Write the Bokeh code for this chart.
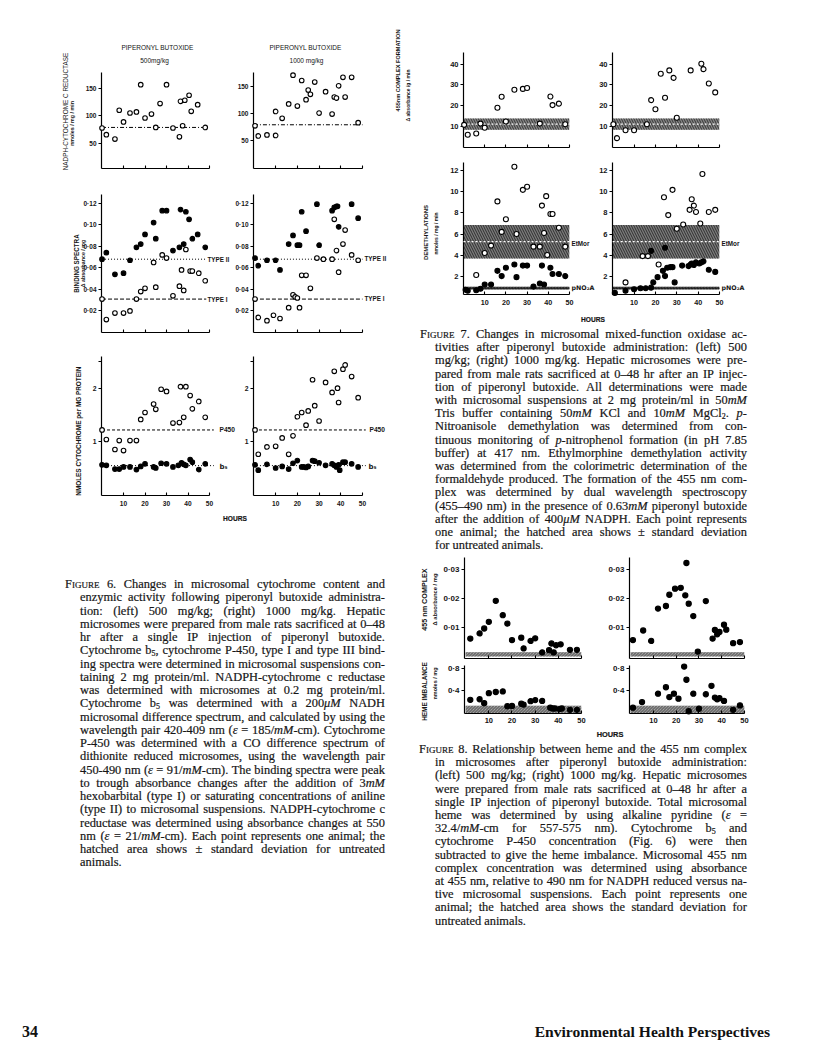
import re
import math
from bokeh.plotting import figure
from bokeh.models import FixedTicker, Div, Range1d
from bokeh.layouts import row, column
from bokeh.embed import file_html
from bokeh.resources import INLINE
from bokeh.core.properties import value

# ---------------------------------------------------------------- data
HOUR_TICKS = [10, 20, 30, 40, 50]
HOUR_LABELS = ["10", "20", "30", "40", "50"]

# Figure 6, row 1 : NADPH-cytochrome c reductase (nmoles/mg/min)
f6_red_500_h = [0, 2, 6, 8, 10, 13, 16, 18, 20, 23, 25, 27, 30, 33, 36, 36.5, 37.5, 38.5, 40.5, 41.5, 44.5, 48]
f6_red_500_v = [78, 66, 58, 110, 89, 105, 107, 156, 96, 103, 79, 122, 156, 78, 62, 126, 82, 128, 137, 108, 120, 79]
f6_red_1000_h = [0.5, 2, 6, 10, 10, 13, 16, 18, 20, 22, 24, 25, 26, 28, 30, 33, 36, 37, 38, 39, 41, 42, 45, 48]
f6_red_1000_v = [77, 58, 60, 59, 104, 91, 118, 172, 114, 162, 126, 144, 136, 159, 101, 141, 99, 131, 129, 152, 168, 131, 168, 83]
f6_red_control = 79
f6_red_yticks = [50, 100, 150]
f6_red_ylabels = ["50", "100", "150"]

# Figure 6, row 2 : binding spectra (delta absorbance / mg)
f6_t2_500_h = [0, 2, 6, 10, 13, 16, 18, 20, 24, 25, 28, 30, 33, 36, 36.5, 38, 39, 40.5, 42, 44.5, 48]
f6_t2_500_v = [0.068, 0.074, 0.054, 0.055, 0.067, 0.079, 0.082, 0.091, 0.102, 0.087, 0.113, 0.113, 0.076, 0.079, 0.114, 0.082, 0.112, 0.105, 0.087, 0.091, 0.079]
f6_t1_500_h = [0, 2, 6, 10, 13, 16, 18, 20, 24, 25, 28, 30, 33, 36, 37, 38, 39, 41, 42, 45, 48]
f6_t1_500_v = [0.031, 0.012, 0.018, 0.018, 0.020, 0.031, 0.038, 0.041, 0.065, 0.042, 0.072, 0.069, 0.034, 0.043, 0.058, 0.039, 0.077, 0.057, 0.057, 0.055, 0.048]
f6_t2_1000_h = [0.5, 2, 6, 10, 12, 16, 18, 20, 21, 22, 24, 29, 30, 36, 37, 38, 38.5, 39, 45, 48]
f6_t2_1000_v = [0.069, 0.062, 0.067, 0.067, 0.058, 0.082, 0.090, 0.081, 0.081, 0.112, 0.094, 0.119, 0.081, 0.113, 0.116, 0.117, 0.117, 0.098, 0.119, 0.106]
f6_t1_1000_h = [0.5, 2, 6, 9, 12, 16, 18, 19, 20, 21, 22, 24, 26, 29, 32, 36, 37, 38, 39, 41, 42, 45, 48]
f6_t1_1000_v = [0.031, 0.014, 0.011, 0.016, 0.013, 0.023, 0.035, 0.033, 0.032, 0.023, 0.053, 0.053, 0.041, 0.069, 0.068, 0.068, 0.105, 0.076, 0.056, 0.082, 0.095, 0.072, 0.067]
f6_type2_control = 0.068
f6_type1_control = 0.031
f6_bind_yticks = [0.02, 0.04, 0.06, 0.08, 0.10, 0.12]
f6_bind_ylabels = ["0·02", "0·04", "0·06", "0·08", "0·10", "0·12"]

# Figure 6, row 3 : nmoles cytochrome per mg protein
f6_p450_500_h = [0, 2, 6, 8, 10, 13, 16, 18, 20, 24, 25, 27.5, 30, 33, 36, 36.5, 38, 39, 41, 42, 45, 48]
f6_p450_500_v = [1.21, 1.03, 0.84, 1.01, 0.82, 1.01, 1.01, 1.41, 1.54, 1.70, 1.60, 1.98, 1.94, 1.34, 1.35, 2.03, 1.45, 2.03, 1.86, 1.61, 1.75, 1.45]
f6_b5_500_h = [0, 2, 6, 8, 10, 13, 16, 18, 20, 24, 25, 27.5, 30, 33, 35.5, 37, 38, 39, 41, 42, 45, 48]
f6_b5_500_v = [0.55, 0.54, 0.47, 0.47, 0.51, 0.51, 0.46, 0.52, 0.57, 0.51, 0.49, 0.58, 0.57, 0.51, 0.54, 0.59, 0.56, 0.54, 0.65, 0.60, 0.46, 0.57]
f6_p450_1000_h = [0.5, 2, 6, 10, 13, 16, 18, 20, 22, 24, 25, 27, 28, 30, 33, 36, 37, 38.5, 39, 41, 42, 45, 48]
f6_p450_1000_v = [1.21, 0.75, 0.89, 0.90, 1.06, 0.75, 1.10, 1.46, 1.54, 1.30, 1.57, 2.16, 1.67, 1.38, 2.11, 1.92, 2.32, 2.00, 1.73, 2.36, 2.44, 2.22, 1.82]
f6_b5_1000_h = [0.5, 2, 6, 10, 13, 16, 18, 20, 22, 23, 24, 25, 27, 28, 30, 33, 36, 37, 38, 39, 39.5, 41, 42, 45, 48]
f6_b5_1000_v = [0.55, 0.45, 0.56, 0.49, 0.52, 0.47, 0.58, 0.63, 0.51, 0.51, 0.50, 0.52, 0.63, 0.62, 0.59, 0.54, 0.57, 0.54, 0.51, 0.55, 0.45, 0.60, 0.60, 0.57, 0.51]
f6_p450_control = 1.21
f6_b5_control = 0.535
f6_cyt_yticks = [1, 2, 2.5]
f6_cyt_ylabels = ["1", "2", ""]

# Figure 7, top : 455 nm complex formation (delta absorbance/g/min)
f7_455_500_h = [0.3, 2, 6, 8, 10, 16, 18, 20, 24, 28, 30, 36, 41, 42, 45, 48]
f7_455_500_v = [10.8, 6.0, 6.6, 11.4, 9.4, 19.0, 24.3, 12.4, 27.7, 28.1, 28.5, 11.4, 24.4, 20.3, 21.0, 11.1]
f7_455_1000_h = [0.3, 2, 6, 10, 16, 18, 20, 22.5, 24.5, 26.5, 28.5, 30, 36.5, 41.5, 42.5, 45, 48]
f7_455_1000_v = [11.1, 4.4, 8.2, 8.2, 11.1, 22.7, 18.3, 35.4, 23.8, 37.0, 33.4, 14.2, 37.0, 40.2, 37.6, 30.7, 26.4]
f7_455_mean = 11.1
f7_455_band = (8.4, 13.85)
f7_455_yticks = [10, 20, 30, 40]
f7_455_ylabels = ["10", "20", "30", "40"]

# Figure 7, bottom : demethylations (nmoles/mg/min)
f7_etmor_500_h = [6, 10, 13, 16, 18, 20, 24, 25, 28, 30, 33, 36, 37, 38, 39, 39.5, 41, 42, 45, 48]
f7_etmor_500_v = [2.1, 4.2, 4.9, 9.1, 6.2, 7.4, 12.4, 6.0, 10.2, 10.5, 4.8, 4.8, 8.7, 6.1, 9.6, 4.0, 7.9, 7.9, 6.6, 4.8]
f7_pna_500_h = [1, 2, 6, 8, 10, 13, 16, 18, 20, 24, 25, 28, 30, 33, 36, 37, 38, 41, 42, 45, 48]
f7_pna_500_v = [0.7, 0.6, 0.65, 0.8, 1.2, 1.2, 2.5, 2.0, 2.8, 3.1, 1.9, 3.0, 3.0, 1.0, 1.3, 3.0, 1.2, 2.8, 2.2, 2.2, 2.0]
f7_etmor_1000_h = [6, 14, 16.5, 21.5, 24, 26, 28, 30, 33, 36, 37, 38, 39, 41, 42, 45, 48]
f7_etmor_1000_v = [1.4, 3.9, 3.9, 3.1, 9.5, 7.8, 10.2, 6.5, 6.9, 8.3, 9.3, 8.7, 8.1, 7.0, 11.7, 8.1, 8.3]
f7_pna_1000_h = [1, 6, 10, 13, 15.5, 18, 18, 19, 21, 23.5, 24.5, 24.5, 25.5, 27, 28, 29, 32.5, 35.5, 36.5, 37, 38, 39, 40.5, 41.5, 42.5, 45, 48]
f7_pna_1000_v = [0.4, 0.6, 0.75, 0.85, 0.85, 0.9, 4.4, 1.4, 1.9, 2.5, 2.0, 4.7, 2.8, 2.85, 2.85, 1.4, 3.0, 2.95, 3.1, 3.2, 3.05, 3.3, 3.2, 3.3, 3.4, 2.6, 2.4]
f7_etmor_mean = 5.27
f7_etmor_band = (3.68, 6.86)
f7_pna_mean = 0.85
f7_pna_band = (0.72, 0.98)
f7_dem_yticks = [2, 4, 6, 8, 10, 12]
f7_dem_ylabels = ["2", "4", "6", "8", "10", "12"]

# Figure 8, top : 455 nm complex (delta absorbance / mg)
f8_455_500_h = [2, 6, 8, 10, 13, 16, 18, 20, 24, 25, 28, 30, 33, 36, 37, 38, 39, 41, 45, 48]
f8_455_500_v = [0.0062, 0.0080, 0.0097, 0.0120, 0.0193, 0.0143, 0.0114, 0.0057, 0.0065, 0.0028, 0.0054, 0.0063, 0.0014, 0.0022, 0.0045, 0.0014, 0.0039, 0.0042, 0.0023, 0.0023]
f8_455_1000_h = [1, 5.5, 9, 12, 15.5, 17, 19.5, 22, 24, 24.5, 25.5, 27.5, 29.5, 33, 36, 37, 38, 39, 41, 42, 45, 48]
f8_455_1000_v = [0.0057, 0.0090, 0.0054, 0.0166, 0.0175, 0.0214, 0.0235, 0.0238, 0.0212, 0.0324, 0.0183, 0.0140, 0.0017, 0.0192, 0.0062, 0.0092, 0.0077, 0.0085, 0.0110, 0.0093, 0.0046, 0.0050]
f8_455_band = (0.0, 0.0015)
f8_455_yticks = [0.01, 0.02, 0.03]
f8_455_ylabels = ["0·01", "0·02", "0·03"]

# Figure 8, bottom : heme imbalance (nmoles / mg)
f8_heme_500_h = [2, 6, 8, 10, 13, 16, 18, 20, 24, 25, 28, 30, 33, 36.5, 37.5, 38.5, 40.5, 41.5, 45, 48]
f8_heme_500_v = [0.24, 0.25, 0.18, 0.36, 0.38, 0.39, 0.125, 0.13, 0.17, 0.155, 0.215, 0.235, 0.22, 0.10, 0.085, 0.085, 0.075, 0.085, 0.06, 0.06]
f8_heme_1000_h = [1, 5, 12, 15.5, 17, 19, 21, 23.5, 24.5, 25.5, 27.5, 30, 33, 35.5, 37, 38, 39, 41, 45, 48]
f8_heme_1000_v = [0.10, 0.20, 0.35, 0.465, 0.29, 0.35, 0.26, 0.835, 0.60, 0.035, 0.35, 0.08, 0.34, 0.49, 0.28, 0.25, 0.27, 0.22, 0.06, 0.14]
f8_heme_band = (0.0, 0.135)
f8_heme_yticks = [0.4, 0.8]
f8_heme_ylabels = ["0·4", "0·8"]

# captions
fig6_caption = [
    "FIGURE 6. Changes in microsomal cytochrome content and",
    "enzymic activity following piperonyl butoxide administra-",
    "tion: (left) 500 mg/kg; (right) 1000 mg/kg. Hepatic",
    "microsomes were prepared from male rats sacrificed at 0–48",
    "hr after a single IP injection of piperonyl butoxide.",
    "Cytochrome b[5], cytochrome P-450, type I and type III bind-",
    "ing spectra were determined in microsomal suspensions con-",
    "taining 2 mg protein/ml. NADPH-cytochrome c reductase",
    "was determined with microsomes at 0.2 mg protein/ml.",
    "Cytochrome b[5] was determined with a 200*μM* NADH",
    "microsomal difference spectrum, and calculated by using the",
    "wavelength pair 420-409 nm (*ε* = 185/*mM*-cm). Cytochrome",
    "P-450 was determined with a CO difference spectrum of",
    "dithionite reduced microsomes, using the wavelength pair",
    "450-490 nm (*ε* = 91/*mM*-cm). The binding spectra were peak",
    "to trough absorbance changes after the addition of 3*mM*",
    "hexobarbital (type I) or saturating concentrations of aniline",
    "(type II) to microsomal suspensions. NADPH-cytochrome c",
    "reductase was determined using absorbance changes at 550",
    "nm (*ε* = 21/*mM*-cm). Each point represents one animal; the",
    "hatched area shows ± standard deviation for untreated",
    "animals.",
]
fig7_caption = [
    "FIGURE 7. Changes in microsomal mixed-function oxidase ac-",
    "tivities after piperonyl butoxide administration: (left) 500",
    "mg/kg; (right) 1000 mg/kg. Hepatic microsomes were pre-",
    "pared from male rats sacrificed at 0–48 hr after an IP injec-",
    "tion of piperonyl butoxide. All determinations were made",
    "with microsomal suspensions at 2 mg protein/ml in 50*mM*",
    "Tris buffer containing 50*mM* KCl and 10*mM* MgCl[2]. *p*-",
    "Nitroanisole demethylation was determined from con-",
    "tinuous monitoring of *p*-nitrophenol formation (in pH 7.85",
    "buffer) at 417 nm. Ethylmorphine demethylation activity",
    "was determined from the colorimetric determination of the",
    "formaldehyde produced. The formation of the 455 nm com-",
    "plex was determined by dual wavelength spectroscopy",
    "(455–490 nm) in the presence of 0.63*mM* piperonyl butoxide",
    "after the addition of 400*μM* NADPH. Each point represents",
    "one animal; the hatched area shows ± standard deviation",
    "for untreated animals.",
]
fig8_caption = [
    "FIGURE 8. Relationship between heme and the 455 nm complex",
    "in microsomes after piperonyl butoxide administration:",
    "(left) 500 mg/kg; (right) 1000 mg/kg. Hepatic microsomes",
    "were prepared from male rats sacrificed at 0–48 hr after a",
    "single IP injection of piperonyl butoxide. Total microsomal",
    "heme was determined by using alkaline pyridine (*ε* =",
    "32.4/*mM*-cm for 557-575 nm). Cytochrome b[5] and",
    "cytochrome P-450 concentration (Fig. 6) were then",
    "subtracted to give the heme imbalance. Microsomal 455 nm",
    "complex concentration was determined using absorbance",
    "at 455 nm, relative to 490 nm for NADPH reduced versus na-",
    "tive microsomal suspensions. Each point represents one",
    "animal; the hatched area shows the standard deviation for",
    "untreated animals.",
]
page_number = "34"
journal_name = "Environmental Health Perspectives"

# ---------------------------------------------------------------- helpers
SANS = "Liberation Sans"
SERIF = "Liberation Serif"
INK = "#151515"


class Panel:
    """A figure whose canvas box and frame are given in page pixels."""

    def __init__(self, box, frame, xr, yr):
        self.box, self.frame, self.xr, self.yr = box, frame, xr, yr
        bl, bt, br, bb = box
        fl, ft, fr, fb = frame
        p = figure(width=br - bl, height=bb - bt,
                   x_range=Range1d(*xr), y_range=Range1d(*yr),
                   min_border_left=fl - bl, min_border_right=br - fr,
                   min_border_top=ft - bt, min_border_bottom=bb - fb,
                   output_backend="svg", toolbar_location=None, tools="")
        p.outline_line_color = None
        p.xgrid.visible = False
        p.ygrid.visible = False
        p.background_fill_color = "white"
        p.border_fill_color = "white"
        self.p = p

    def dx(self, px):
        fl, ft, fr, fb = self.frame
        return self.xr[0] + (px - fl) / (fr - fl) * (self.xr[1] - self.xr[0])

    def dy(self, py):
        fl, ft, fr, fb = self.frame
        return self.yr[1] - (py - ft) / (fb - ft) * (self.yr[1] - self.yr[0])


def style_axes(pan, yticks, ylabels, show_x, ysize, xsize=7, xstand=4):
    p = pan.p
    xa = p.xaxis[0]
    ya = p.yaxis[0]
    for a in (xa, ya):
        a.axis_line_color = "black"
        a.axis_line_width = 1.2
        a.major_tick_line_color = "black"
        a.major_tick_line_width = 1.1
        a.minor_tick_line_color = None
        a.major_label_text_font = SANS
        a.major_label_text_font_style = "bold"
        a.major_label_text_color = INK
    xa.ticker = FixedTicker(ticks=HOUR_TICKS, minor_ticks=[])
    xa.major_tick_in = 3
    xa.major_tick_out = 0
    if show_x:
        xa.major_label_overrides = dict(zip(HOUR_TICKS, HOUR_LABELS))
        xa.major_label_text_font_size = f"{xsize}px"
        xa.major_label_standoff = xstand
    else:
        xa.major_label_overrides = {t: "" for t in HOUR_TICKS}
        xa.major_label_text_font_size = "0px"
        xa.major_label_standoff = 0
    ya.ticker = FixedTicker(ticks=yticks, minor_ticks=[])
    ya.major_label_overrides = dict(zip(yticks, ylabels))
    ya.major_tick_in = 0
    ya.major_tick_out = 3
    ya.major_label_standoff = 2
    ya.major_label_text_font_size = f"{ysize}px"


def label(pan, px, py, s, size, angle=0.0, align="center", bold=True, font=SANS):
    pan.p.text(x=[pan.dx(px)], y=[pan.dy(py)], text=[s], angle=angle,
               text_align=align, text_baseline="middle",
               text_font=value(font), text_font_size=value(f"{size}px"),
               text_font_style="bold" if bold else "normal",
               text_color=INK, level="overlay")


def ref_line(pan, x1, yv, dash, color="black", width=1.0):
    pan.p.line(x=[0, x1], y=[yv, yv], line_color=color, line_width=width,
               line_dash=dash, level="overlay")


def band(pan, lo_hi, fill, hatch, scale):
    pan.p.quad(left=[0], right=[50], bottom=[lo_hi[0]], top=[lo_hi[1]],
               fill_color=fill, line_color=None, hatch_pattern="\\",
               hatch_color=hatch, hatch_scale=scale, hatch_weight=0.9)


def pts(pan, xs, ys, filled, size=5):
    pan.p.scatter(x=xs, y=ys, marker="circle", size=size,
                  line_color="black", line_width=1.1,
                  fill_color="black" if filled else "white", level="overlay")


UP = math.pi / 2

# ---------------------------------------------------------------- Figure 6
L1 = Panel((8, 8, 240, 190), (109, 80, 217, 176), (-0.25, 50), (5, 178))
R1 = Panel((240, 8, 400, 190), (261, 80, 370, 176), (-0.2, 50), (-3, 177))
for pan in (L1, R1):
    style_axes(pan, f6_red_yticks, f6_red_ylabels, False, 6.5)
    ref_line(pan, 50, f6_red_control, "4 2 1 2")
pts(L1, f6_red_500_h, f6_red_500_v, False, 4.6)
pts(R1, f6_red_1000_h, f6_red_1000_v, False, 4.6)
label(L1, 165, 55, "PIPERONYL BUTOXIDE", 6.5, bold=False)
label(L1, 162, 67.5, "500mg/kg", 6.5, bold=False)
label(R1, 313, 55, "PIPERONYL BUTOXIDE", 6.5, bold=False)
label(R1, 314, 67.5, "1000 mg/kg", 6.5, bold=False)
label(L1, 72.7, 119, "NADPH-CYTOCHROME C REDUCTASE", 6.4, angle=UP, bold=False)
label(L1, 79.5, 131, "nmoles / mg / min", 5.3, angle=UP)

L2 = Panel((8, 190, 240, 350), (109, 202, 217, 340), (-0.25, 50), (0, 0.128))
R2 = Panel((240, 190, 400, 350), (261, 202, 370, 340), (-0.2, 50), (0, 0.128))
for pan in (L2, R2):
    style_axes(pan, f6_bind_yticks, f6_bind_ylabels, False, 6.5)
ref_line(L2, 48.5, f6_type2_control, "1 2")
ref_line(L2, 48.5, f6_type1_control, "4 2")
ref_line(R2, 50, f6_type2_control, "1 2")
ref_line(R2, 50, f6_type1_control, "4 2")
pts(L2, f6_t2_500_h, f6_t2_500_v, True, 4.6)
pts(L2, f6_t1_500_h, f6_t1_500_v, False, 4.6)
pts(R2, f6_t2_1000_h, f6_t2_1000_v, True, 4.6)
pts(R2, f6_t1_1000_h, f6_t1_1000_v, False, 4.6)
label(L2, 215, 267, "TYPE II", 6.3, align="left")
label(L2, 215, 307, "TYPE I", 6.3, align="left")
label(R2, 372, 266, "TYPE II", 6.3, align="left")
label(R2, 372, 306, "TYPE I", 6.3, align="left")
label(L2, 83.5, 271, "BINDING SPECTRA", 6.3, angle=UP)
label(L2, 90.5, 271, "Δ absorbance / mg", 5.3, angle=UP)

L3 = Panel((8, 350, 247, 517), (109, 364, 217, 503), (-0.25, 50), (-0.03, 2.6))
R3 = Panel((247, 350, 400, 517), (261, 364, 370, 503), (-0.2, 50), (-0.03, 2.6))
for pan in (L3, R3):
    style_axes(pan, f6_cyt_yticks, f6_cyt_ylabels, True, 6.8, xsize=6.6, xstand=5)
ref_line(L3, 52, f6_p450_control, "3 2")
ref_line(L3, 52, f6_b5_control, "1 2")
ref_line(R3, 51.5, f6_p450_control, "3 2")
ref_line(R3, 51.5, f6_b5_control, "1 2")
pts(L3, f6_p450_500_h, f6_p450_500_v, False, 4.6)
pts(L3, f6_b5_500_h, f6_b5_500_v, True, 4.6)
pts(R3, f6_p450_1000_h, f6_p450_1000_v, False, 4.6)
pts(R3, f6_b5_1000_h, f6_b5_1000_v, True, 4.6)
label(L3, 227, 437, "P450", 6.6, align="left")
label(L3, 227, 474, "b₅", 7, align="left", font="DejaVu Sans")
label(R3, 377, 437, "P450", 6.6, align="left")
label(R3, 376, 474, "b₅", 7, align="left", font="DejaVu Sans")
label(L3, 86, 436, "NMOLES  CYTOCHROME  per  MG PROTEIN", 6.4, angle=UP)

# ---------------------------------------------------------------- Figure 7
L7a = Panel((400, 8, 603, 165), (471, 60, 577, 155), (0, 50), (-0.1, 45.6))
R7a = Panel((603, 8, 808, 165), (620, 60, 727, 155), (-0.1, 50), (-0.1, 45.6))
for pan in (L7a, R7a):
    style_axes(pan, f7_455_yticks, f7_455_ylabels, False, 7.5)
    band(pan, f7_455_band, "#858585", "#2e2e2e", 5)
    ref_line(pan, 50, f7_455_mean, "2 2", color="white", width=1.2)
pts(L7a, f7_455_500_h, f7_455_500_v, False, 5)
pts(R7a, f7_455_1000_h, f7_455_1000_v, False, 5)
label(L7a, 405, 78, "455nm COMPLEX FORMATION", 5.6, angle=UP)
label(L7a, 415.5, 103, "Δ absorbance /g / min", 5, angle=UP)

L7b = Panel((400, 165, 603, 318), (471, 170, 577, 302), (0, 50), (0.25, 12.8))
R7b = Panel((603, 165, 808, 318), (620, 170, 727, 302), (-0.1, 50), (0.25, 12.8))
for pan in (L7b, R7b):
    style_axes(pan, f7_dem_yticks, f7_dem_ylabels, True, 7.5, xsize=7.2, xstand=5)
    band(pan, f7_etmor_band, "#7a7a7a", "#262626", 5)
    band(pan, f7_pna_band, "#7a7a7a", "#262626", 3)
    ref_line(pan, 50, f7_etmor_mean, "2 2", color="white", width=1.2)
    ref_line(pan, 50, f7_pna_mean, "2 1", color="black", width=1.0)
pts(L7b, f7_etmor_500_h, f7_etmor_500_v, False, 5)
pts(L7b, f7_pna_500_h, f7_pna_500_v, True, 5)
pts(R7b, f7_etmor_1000_h, f7_etmor_1000_v, False, 5)
pts(R7b, f7_pna_1000_h, f7_pna_1000_v, True, 5)
label(L7b, 579, 251, "EtMor", 6.3, align="left")
label(L7b, 579, 295, "pNO₂A", 6.3, align="left", font="DejaVu Sans")
label(R7b, 729, 251, "EtMor", 6.3, align="left")
label(R7b, 729, 295, "pNO₂A", 6.3, align="left", font="DejaVu Sans")
label(L7b, 433, 240, "DEMETHYLATIONS", 6, angle=UP)
label(L7b, 443, 241, "nmoles / mg / min", 5, angle=UP)

# ---------------------------------------------------------------- Figure 8
L8a = Panel((400, 560, 608, 667), (472, 565, 589, 666), (-0.5, 50), (-0.0007, 0.0343))
R8a = Panel((608, 560, 808, 667), (637, 565, 752, 666), (-0.5, 50), (-0.0007, 0.0343))
for pan in (L8a, R8a):
    style_axes(pan, f8_455_yticks, f8_455_ylabels, False, 8)
    band(pan, f8_455_band, "#bdbdbd", "#4a4a4a", 3)
pts(L8a, f8_455_500_h, f8_455_500_v, True, 5.2)
pts(R8a, f8_455_1000_h, f8_455_1000_v, True, 5.2)
label(L8a, 432, 607, "455 nm COMPLEX", 7.2, angle=UP)
label(L8a, 442, 607, "Δ absorbance / mg", 5.8, angle=UP)

L8b = Panel((400, 667, 608, 737), (472, 673, 589, 721), (-0.5, 50), (-0.005, 0.855))
R8b = Panel((608, 667, 808, 737), (637, 673, 752, 721), (-0.5, 50), (-0.005, 0.855))
for pan in (L8b, R8b):
    style_axes(pan, f8_heme_yticks, f8_heme_ylabels, True, 8, xsize=7.5, xstand=4)
    band(pan, f8_heme_band, "#bdbdbd", "#4a4a4a", 3)
pts(L8b, f8_heme_500_h, f8_heme_500_v, True, 5.2)
pts(R8b, f8_heme_1000_h, f8_heme_1000_v, True, 5.2)
label(L8b, 432, 699, "HEME IMBALANCE", 6.4, angle=UP)
label(L8b, 442, 691, "nmoles / mg", 5.5, angle=UP)


# ---------------------------------------------------------------- text blocks
def word_html(w):
    if w == "FIGURE":
        return '<span style="font-variant:small-caps">Figure</span>'
    w = re.sub(r"\*(.+?)\*", r"<i>\1</i>", w)
    w = re.sub(r"\[(.+?)\]",
               r'<sub style="font-size:8px;line-height:0;vertical-align:-2px">\1</sub>', w)
    return w


def caption_html(lines, first_left, left, right, y0, dy, top):
    out = []
    for i, line in enumerate(lines):
        words = [word_html(w) for w in line.split(" ")]
        x = first_left if i == 0 else left
        t = y0 + i * dy - 7 - top
        base = (f"position:absolute;left:{x}px;top:{t:.1f}px;width:{right - x}px;"
                f"height:14px;line-height:14px;white-space:nowrap;")
        if i == len(lines) - 1:
            out.append(f'<div style="{base}">{" ".join(words)}</div>')
        else:
            inner = "".join(f"<span>{w}</span>" for w in words)
            out.append(f'<div style="{base}display:flex;justify-content:space-between;">{inner}</div>')
    return "".join(out)


def hours_html(cx, cy, size):
    return (f'<div style="position:absolute;left:{cx - 40}px;top:{cy - 6}px;width:80px;'
            f'text-align:center;line-height:12px;font-family:\'{SANS}\';font-weight:bold;'
            f'font-size:{size}px;color:{INK};">HOURS</div>')


def block(inner, w, h):
    html = (f'<div style="position:relative;width:{w}px;height:{h}px;overflow:hidden;'
            f'font-family:\'{SERIF}\',serif;font-size:12.4px;color:#161616;'
            f'-webkit-text-stroke:0.2px #161616;">{inner}</div>')
    return Div(text=html, width=w, height=h, margin=(0, 0, 0, 0))


# left column text block: page x 8..400, y 517..1010
D6 = block(hours_html(243 - 8, 527 - 517, 6.6)
           + caption_html(fig6_caption, 73 - 8, 88 - 8, 393 - 8, 592, 13.25, 517),
           392, 493)
# right column: Fig. 7 caption, page x 400..808, y 318..560
D7 = block(hours_html(601 - 400, 328 - 318, 6.6)
           + caption_html(fig7_caption, 428 - 400, 443 - 400, 755 - 400, 342, 13.2, 318),
           408, 242)
# Fig. 8 caption, page y 737..1010
D8 = block(hours_html(618 - 400, 743 - 737, 7.4)
           + caption_html(fig8_caption, 427 - 400, 443 - 400, 755 - 400, 757, 13.2, 737),
           408, 273)

footer_html = (
    '<div style="position:relative;width:800px;height:45px;">'
    f'<div style="position:absolute;left:22px;top:21px;line-height:18px;font-family:\'{SERIF}\';'
    f'font-weight:bold;font-size:16px;color:#111;">{page_number}</div>'
    f'<div style="position:absolute;right:30px;top:21px;line-height:18px;font-family:\'{SERIF}\';'
    f'font-weight:bold;font-size:15.6px;color:#111;white-space:nowrap;">{journal_name}</div>'
    '</div>')
footer = Div(text=footer_html, width=800, height=45, margin=(0, 0, 0, 0))

left_col = column(row(L1.p, R1.p), row(L2.p, R2.p), row(L3.p, R3.p), D6)
right_col = column(row(L7a.p, R7a.p), row(L7b.p, R7b.p), D7,
                   row(L8a.p, R8a.p), row(L8b.p, R8b.p), D8)
page = column(row(left_col, right_col), footer)

open("out.html", "w").write(file_html(page, INLINE))
